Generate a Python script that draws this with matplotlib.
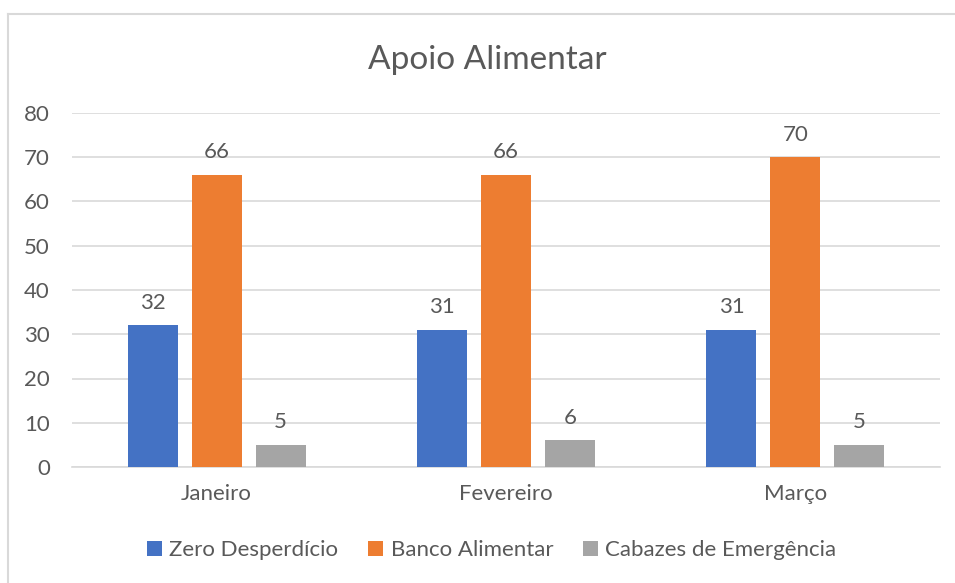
import matplotlib.pyplot as plt
import numpy as np
from matplotlib.lines import Line2D

months = ['Janeiro', 'Fevereiro', 'Março']
series_names = ['Zero Desperdício', 'Banco Alimentar', 'Cabazes de Emergência']
zero_desperdicio = [32, 31, 31]
banco_alimentar = [66, 66, 70]
cabazes_emergencia = [5, 6, 5]
y_ticks = [0, 10, 20, 30, 40, 50, 60, 70, 80]

colors = ['#4472C4', '#ED7D31', '#A5A5A5']
text_color = '#595959'

plt.rcParams['font.family'] = ['Lato', 'DejaVu Sans']

fig = plt.figure(figsize=(9.55, 5.83), dpi=100)
ax = fig.add_axes([72 / 955, 1 - 467 / 583, 868 / 955, 354 / 583])

x = np.arange(len(months))
width = 0.173
step = 0.221
all_series = [zero_desperdicio, banco_alimentar, cabazes_emergencia]

for i, (vals, name, c) in enumerate(zip(all_series, series_names, colors)):
    bars = ax.bar(x + (i - 1) * step, vals, width, color=c, label=name, zorder=3)
    for b, v in zip(bars, vals):
        ax.annotate(str(v), (b.get_x() + b.get_width() / 2, v),
                    xytext=(0, 9), textcoords='offset points',
                    ha='center', va='bottom', fontsize=16, color=text_color)

ax.set_xlim(-0.5, 2.5)
ax.set_ylim(0, 80)
ax.set_yticks(y_ticks)
ax.set_xticks(x)
ax.set_xticklabels(months)
ax.tick_params(axis='both', length=0, labelsize=16, labelcolor=text_color)
ax.tick_params(axis='y', pad=16)
ax.tick_params(axis='x', pad=12)
ax.grid(axis='y', color='#D9D9D9', linewidth=1.2, zorder=0)
for s in ['top', 'right', 'left']:
    ax.spines[s].set_visible(False)
ax.spines['bottom'].set_color('#D9D9D9')
ax.spines['bottom'].set_linewidth(1.2)

fig.text(0.51, 1 - 60 / 583, 'Apoio Alimentar', ha='center', va='center',
         fontsize=24, color=text_color)

# outer chart border (only left and top visible in the crop)
fig.add_artist(Line2D([7.5 / 955, 7.5 / 955], [0, 1 - 14 / 583], color='#D9D9D9',
                      linewidth=1.5, transform=fig.transFigure))
fig.add_artist(Line2D([7.5 / 955, 1], [1 - 14 / 583, 1 - 14 / 583], color='#D9D9D9',
                      linewidth=1.5, transform=fig.transFigure))

fig.legend(loc='center', bbox_to_anchor=(0.515, 1 - 550 / 583), ncol=3, frameon=False,
           fontsize=16, labelcolor=text_color, handlelength=0.65, handleheight=0.65,
           handletextpad=0.35, columnspacing=1.35)

fig.savefig('out.png', dpi=100)
